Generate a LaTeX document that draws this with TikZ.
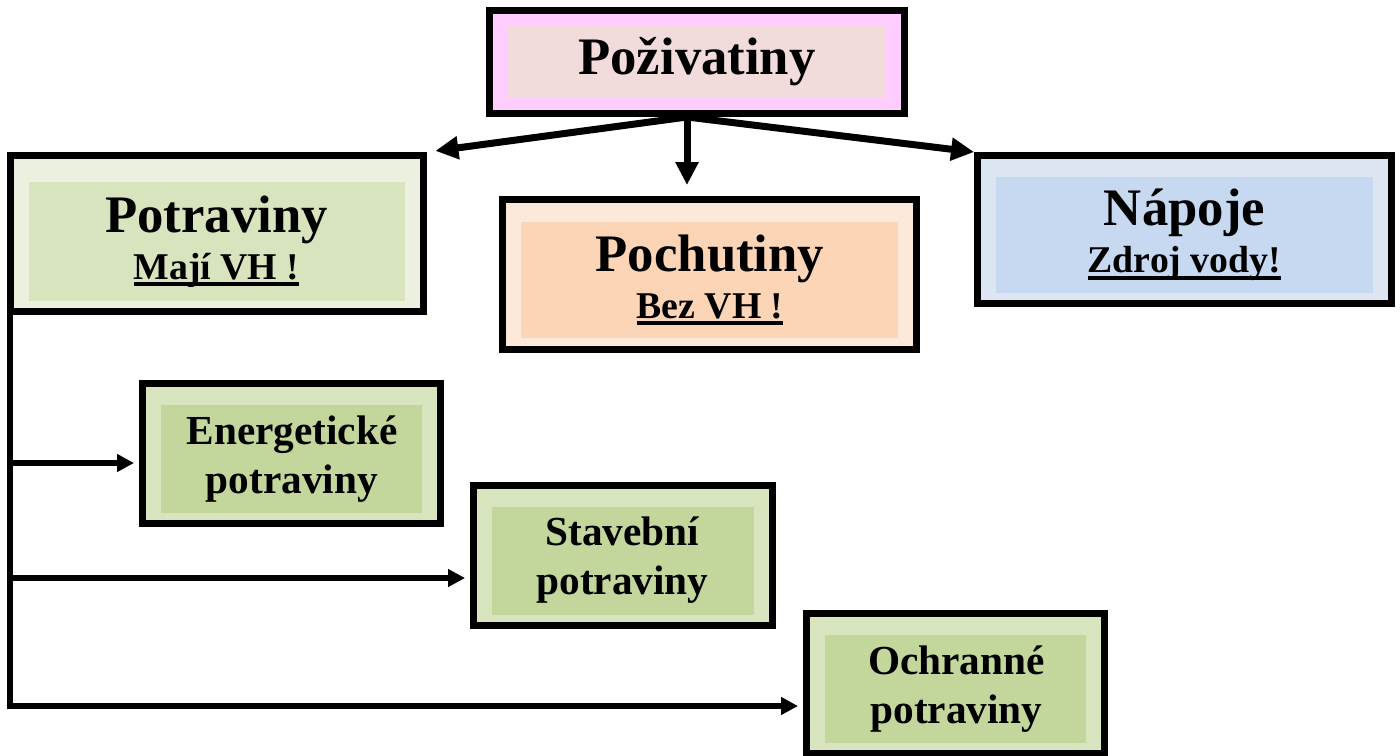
\documentclass[tikz,border=0pt]{standalone}
\usepackage{fontspec}
\setmainfont{Liberation Serif}
\usetikzlibrary{arrows.meta,positioning,calc}

\definecolor{pozout}{HTML}{FFCCFF}
\definecolor{pozin}{HTML}{F2DCDB}
\definecolor{potrout}{HTML}{EBF1DE}
\definecolor{potrin}{HTML}{D7E4BD}
\definecolor{pochout}{HTML}{FDE9D9}
\definecolor{pochin}{HTML}{FBD5B5}
\definecolor{napout}{HTML}{DCE6F2}
\definecolor{napin}{HTML}{C6D9F1}
\definecolor{typeout}{HTML}{D7E4BD}
\definecolor{typein}{HTML}{C3D69B}

% thick underline as in the slide
\newcommand{\undl}[1]{\setbox0\hbox{#1}\leavevmode\rlap{\rule[-3.8pt]{\wd0}{2.3pt}}\box0}
\newcommand{\subline}[1]{{\fontsize{21.5}{26}\selectfont\undl{#1}}}

\begin{document}
\begin{tikzpicture}[
    x=0.02cm, y=-0.02cm,
    panel/.style n args={4}{rectangle, draw, line width=0.14cm, fill=#1,
        path picture={\fill[#2] ([xshift=0.37cm,yshift=#4]path picture bounding box.south west)
            rectangle ([xshift=-0.37cm,yshift=-#3]path picture bounding box.north east);}},
    title/.style={font=\bfseries\fontsize{30}{27}\selectfont, align=center, inner sep=0pt},
    kind/.style={font=\bfseries\fontsize{23.5}{28}\selectfont, align=center, inner sep=0pt},
    arrow/.style={line width=0.14cm, -{Triangle[length=0.46cm, width=0.44cm]}},
    branch/.style={line width=0.12cm, -{Triangle[length=0.34cm, width=0.34cm]}, shorten >=0.1cm}
]
\useasboundingbox (0,0) rectangle (1400,755);

% main boxes
\node[panel={pozout}{pozin}{0.29cm}{0.33cm}, minimum width=8.3cm, minimum height=2.06cm] (pozivatiny) at (697,62) {};
\node[panel={potrout}{potrin}{0.53cm}{0.21cm}, minimum width=8.26cm, minimum height=3.12cm] (potraviny) at (217,233.5) {};
\node[panel={pochout}{pochin}{0.45cm}{0.23cm}, minimum width=8.28cm, minimum height=3cm] (pochutiny) at (709.5,274.5) {};
\node[panel={napout}{napin}{0.43cm}{0.21cm}, minimum width=8.28cm, minimum height=2.96cm] (napoje) at (1184.5,229.5) {};

\node[title] (pozivatiny-txt) at (pozivatiny.center) {Poživatiny};
\node[title] (potraviny-txt) at (216.5,241.5) {Potraviny\\\subline{Mají VH !}};
\node[title] (pochutiny-txt) at (710,280) {Pochutiny\\\subline{Bez VH !}};
\node[title] (napoje-txt) at (1184.5,235) {Nápoje\\\subline{Zdroj vody!}};

% kinds of food
\node[panel={typeout}{typein}{0.43cm}{0.21cm}, minimum width=5.96cm, minimum height=2.8cm] (energeticke) at (291.5,453.5) {};
\node[panel={typeout}{typein}{0.43cm}{0.21cm}, minimum width=5.98cm, minimum height=2.8cm] (stavebni) at (623,555.5) {};
\node[panel={typeout}{typein}{0.43cm}{0.21cm}, minimum width=5.96cm, minimum height=2.8cm] (ochranne) at (955.5,683.5) {};

\node[kind] (energeticke-txt) at (292,459) {Energetické\\potraviny};
\node[kind] (stavebni-txt) at (622.5,560) {Stavební\\potraviny};
\node[kind] (ochranne-txt) at (956.5,689) {Ochranné\\potraviny};

\coordinate (fork) at ([xshift=-0.2cm]pozivatiny.south);
\coordinate (trunk) at ([xshift=0.06cm]potraviny.south west);

\draw[arrow, shorten >=0.17cm] (fork) -- (potraviny.north east);
\draw[arrow, shorten >=0.22cm] (fork) -- (fork |- pochutiny.north);
\draw[arrow] (fork) -- (napoje.north west);

\draw[branch] (trunk) |- ([yshift=-0.19cm]energeticke.west);
\draw[branch] (trunk) |- ([yshift=-0.45cm]stavebni.west);
\draw[branch] (trunk) |- ([yshift=-0.45cm]ochranne.west);

\end{tikzpicture}
\end{document}
